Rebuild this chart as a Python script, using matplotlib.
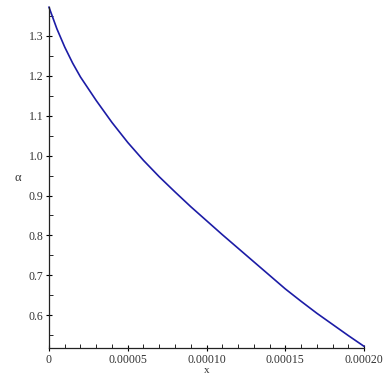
import matplotlib
matplotlib.use('Agg')
import matplotlib.pyplot as plt
from matplotlib.ticker import MultipleLocator, FuncFormatter

LINE_COLOUR = '#1c1ca6'
TEXT_COLOUR = '#333333'

# values
x_vals = [0.0, 0.000005, 0.00001, 0.000015, 0.00002, 0.00003, 0.00004,
          0.00005, 0.00006, 0.00007, 0.00008, 0.00009, 0.0001, 0.00011,
          0.00012, 0.00013, 0.00014, 0.00015, 0.00016, 0.00017, 0.00018,
          0.00019, 0.0002]
alpha_vals = [1.372, 1.318, 1.272, 1.232, 1.197, 1.138, 1.083,
              1.033, 0.988, 0.947, 0.909, 0.872, 0.837, 0.802,
              0.768, 0.734, 0.700, 0.666, 0.635, 0.605, 0.577,
              0.549, 0.522]
x_ticks = [0.0, 0.00005, 0.0001, 0.00015, 0.0002]
x_ticklabels = ['0', '0.00005', '0.00010', '0.00015', '0.00020']
y_ticks = [0.6, 0.7, 0.8, 0.9, 1.0, 1.1, 1.2, 1.3]

plt.rcParams['font.family'] = ['Liberation Serif', 'DejaVu Serif']

fig = plt.figure(figsize=(3.87, 3.79), dpi=100)
fig.set_facecolor('white')
ax = fig.add_axes([0.1266, 0.0815, 0.814, 0.900])

ax.plot(x_vals, alpha_vals, color=LINE_COLOUR, linewidth=1.2, clip_on=False)

ax.set_xlim(0, 0.0002)
ax.set_ylim(0.5175, 1.3725)
for side in ['top', 'right']:
    ax.spines[side].set_visible(False)
for side in ['left', 'bottom']:
    ax.spines[side].set_linewidth(0.9)
    ax.spines[side].set_color('#222222')

ax.set_xticks(x_ticks)
ax.set_xticklabels(x_ticklabels)
ax.set_yticks(y_ticks)
ax.yaxis.set_major_formatter(FuncFormatter(lambda v, p: f'{v:.1f}'))
ax.xaxis.set_minor_locator(MultipleLocator(0.00001))
ax.yaxis.set_minor_locator(MultipleLocator(0.05))

ax.tick_params(axis='both', which='major', direction='inout', length=5,
               width=0.8, labelsize=8.5, labelcolor=TEXT_COLOUR, pad=1.5)
ax.tick_params(axis='both', which='minor', direction='in', length=3, width=0.6)

ax.set_xlabel('x', fontsize=8, color=TEXT_COLOUR, labelpad=0)
ax.set_ylabel('α', fontsize=9, color=TEXT_COLOUR, rotation=0, labelpad=8,
              va='center')

fig.savefig('out.png', dpi=100)
